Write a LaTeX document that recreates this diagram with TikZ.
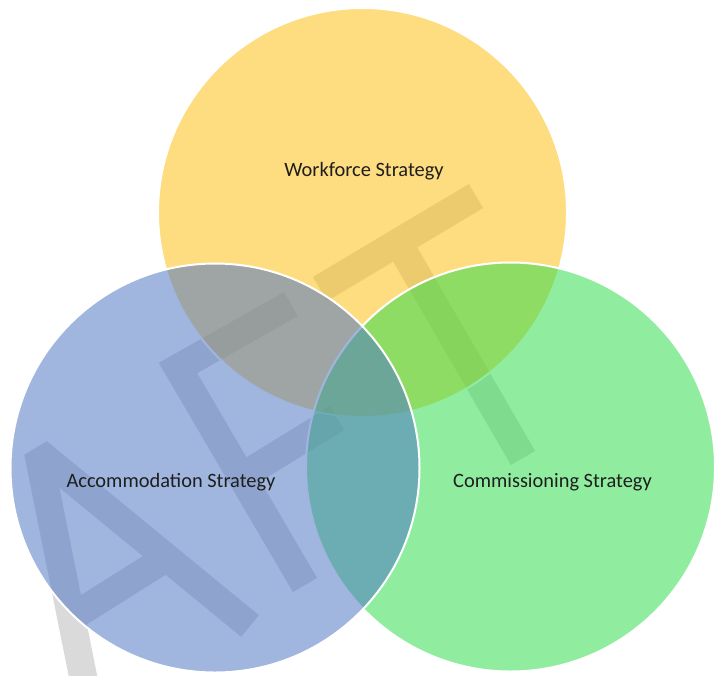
\documentclass[tikz,border=0pt]{standalone}
\usepackage{fontspec}
\setmainfont{Carlito}
\definecolor{wfyellow}{RGB}{253,190,20}
\definecolor{accblue}{RGB}{79,120,196}
\definecolor{comgreen}{RGB}{50,222,79}
\definecolor{wmgrey}{RGB}{218,218,218}
\definecolor{captext}{RGB}{30,30,30}

\begin{document}
\begin{tikzpicture}[x=0.75pt,y=-0.75pt,
    venn/.style={circle, minimum size=306.75pt, inner sep=0pt, fill opacity=0.54, draw=white, line width=1.5pt},
    wmark/.style={draw=wmgrey, line width=21pt, line join=miter},
    caption/.style={font=\fontsize{15.3}{18}\selectfont, text=captext, inner sep=0pt}]
    \useasboundingbox (0,0) rectangle (716,675);
    \clip (0,0) rectangle (716,675);
    % faint DRAFT watermark behind the circles
    \draw[wmark, line join=bevel] (97,746) -- (38,452) -- (250,626);
    \draw[wmark] (74,616) -- (166,558);
    \draw[wmark] (305,585) -- (178,368) -- (291,304);
    \draw[wmark] (241,477) -- (337,418);
    \draw[wmark] (320,289) -- (476,196);
    \draw[wmark] (398,242) -- (523,458);
    \node[venn, fill=wfyellow] (work) at (362.5,212.5) {};
    \node[venn, fill=comgreen] (comm) at (510.5,467) {};
    \node[venn, fill=accblue] (acc) at (215,468) {};
    \node[caption] (worktext) at (364,171) {Workforce Strategy};
    \node[caption] (acctext) at (171,482) {Accommodation Strategy};
    \node[caption] (commtext) at (552.5,482) {Commissioning Strategy};
\end{tikzpicture}
\end{document}
